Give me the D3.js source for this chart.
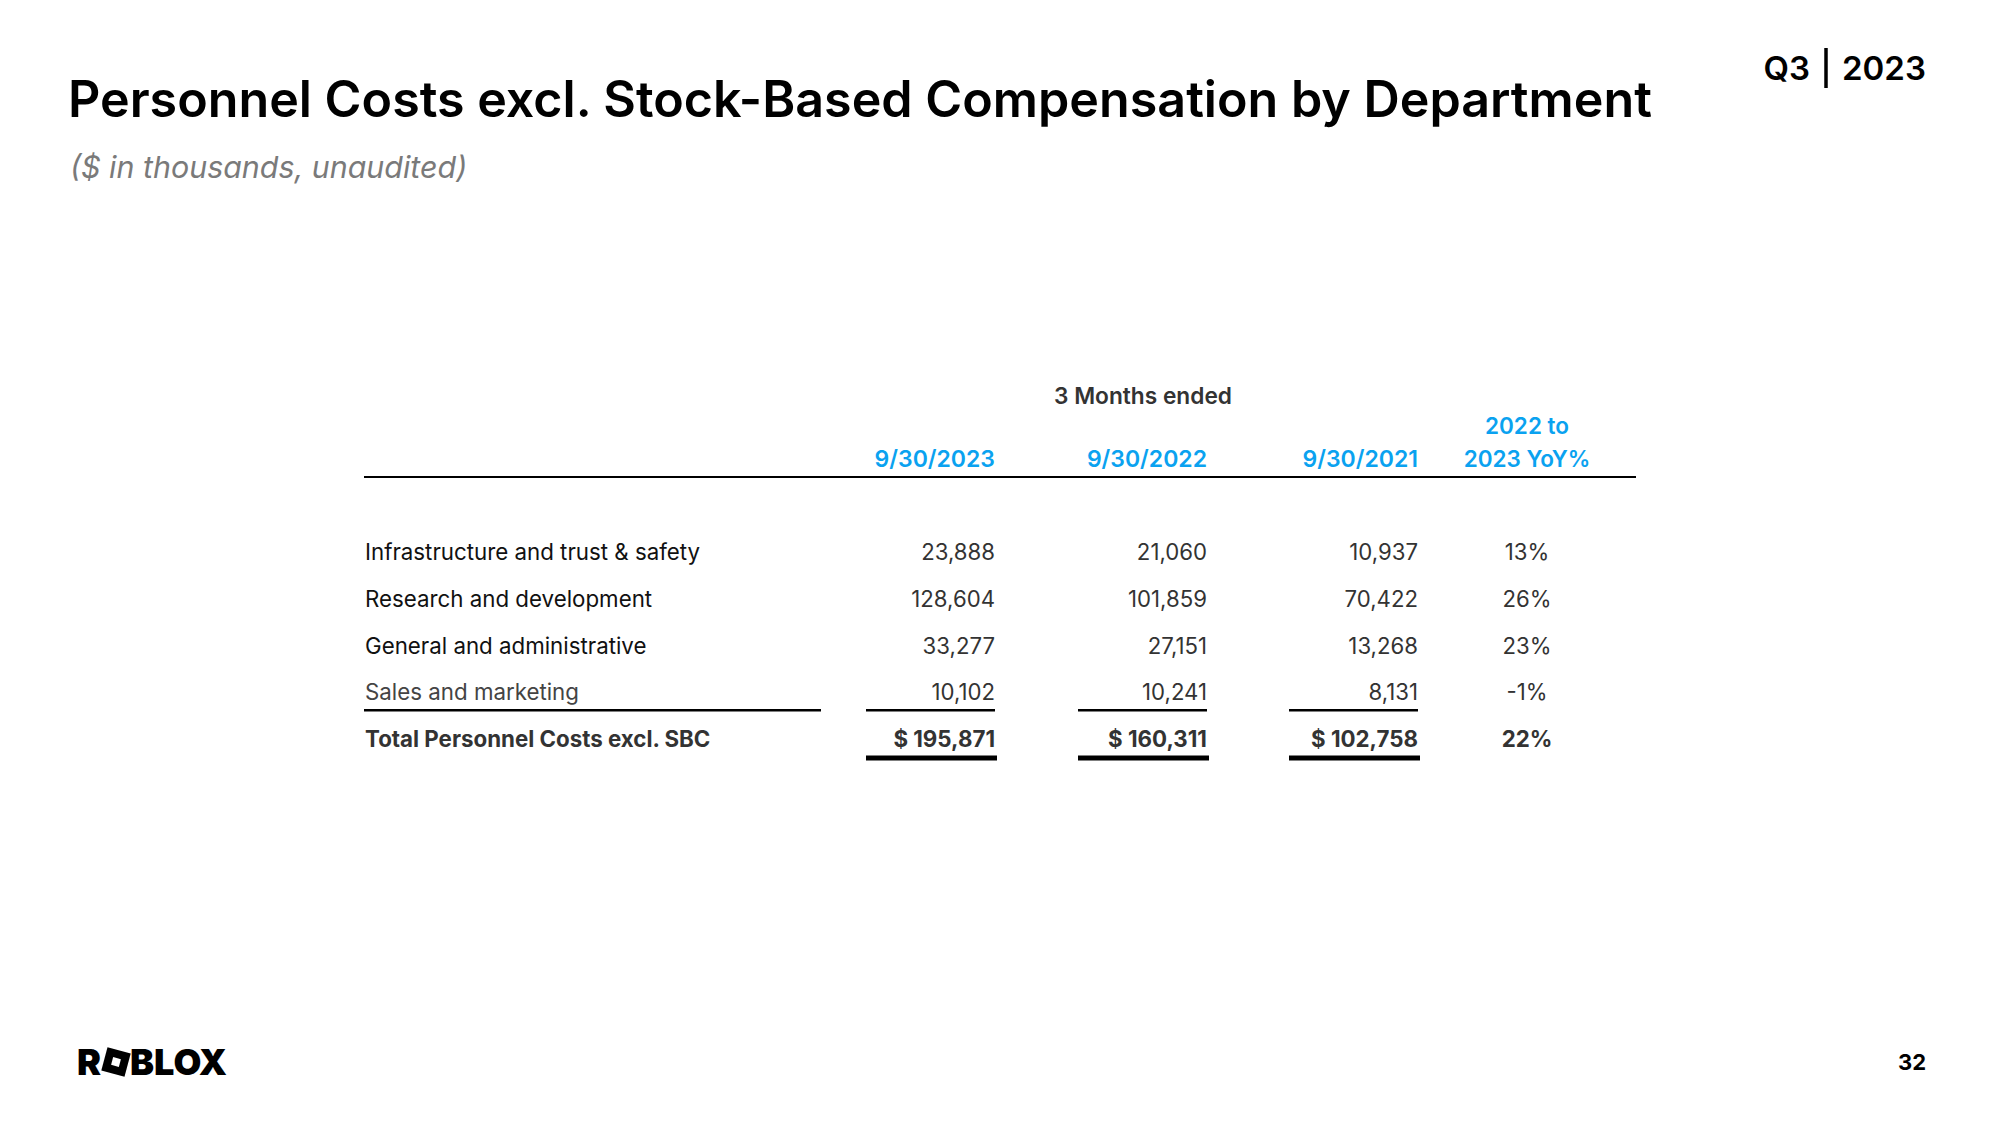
<!DOCTYPE html>
<html><head><meta charset="utf-8">
<script src="https://cdn.jsdelivr.net/npm/d3@7"></script>
<style>
html,body{margin:0;padding:0;background:#fff;}
svg{display:block;font-family:Inter,"Noto Sans",sans-serif;}
</style></head>
<body>
<svg id="c" width="2000" height="1125"></svg>
<script>
const title = "Personnel Costs excl. Stock-Based Compensation by Department";
const subtitle = "($ in thousands, unaudited)";
const quarterLabel = "Q3";
const yearLabel = "2023";
const pageNumber = "32";
const groupHeader = "3 Months ended";
const columnHeaders = ["9/30/2023", "9/30/2022", "9/30/2021"];
const yoyHeader = ["2022 to", "2023 YoY%"];
const categories = ["Infrastructure and trust & safety", "Research and development", "General and administrative", "Sales and marketing"];
const values2023 = [23888, 128604, 33277, 10102];
const values2022 = [21060, 101859, 27151, 10241];
const values2021 = [10937, 70422, 13268, 8131];
const yoyPct = [13, 26, 23, -1];
const totalLabel = "Total Personnel Costs excl. SBC";
const totals = [195871, 160311, 102758];
const totalYoy = 22;

const svg = d3.select("#c");
const blue = "#0aa2f0";
const fmt = d3.format(",");

// header texts
svg.append("text").attr("x", 68).attr("y", 117).attr("font-size", 50.2).attr("font-weight", 600)
  .attr("fill", "#000").text(title);
svg.append("text").attr("x", 70).attr("y", 178).attr("font-size", 30.4).attr("font-style", "italic")
  .attr("font-weight", 400).attr("fill", "#7a7a7a").text(subtitle);
svg.append("text").attr("x", 1810).attr("y", 80).attr("font-size", 33).attr("font-weight", 600)
  .attr("text-anchor", "end").attr("fill", "#000").text(quarterLabel);
svg.append("line").attr("x1", 1826).attr("x2", 1826).attr("y1", 48).attr("y2", 88)
  .attr("stroke", "#000").attr("stroke-width", 3.5);
svg.append("text").attr("x", 1842).attr("y", 80).attr("font-size", 33).attr("font-weight", 600)
  .attr("fill", "#000").text(yearLabel);

// scales
const colKeys = ["c2023", "c2022", "c2021"];
const xCol = d3.scaleOrdinal().domain(colKeys).range([995, 1207, 1418]);
const xPct = 1527;
const xLabel = 365;
const rowKeys = categories.concat([totalLabel]);
const y = d3.scalePoint().domain(rowKeys).range([560, 747]);

const g = svg.append("g");

// group header
g.append("text").attr("x", 1143).attr("y", 404).attr("font-size", 22.7).attr("font-weight", 600)
  .attr("text-anchor", "middle").attr("fill", "#333").text(groupHeader);
columnHeaders.forEach((h, i) => {
  g.append("text").attr("x", xCol(colKeys[i])).attr("y", 467).attr("font-size", 23).attr("font-weight", 600)
    .attr("text-anchor", "end").attr("fill", blue).text(h);
});
yoyHeader.forEach((h, i) => {
  g.append("text").attr("x", xPct).attr("y", 434 + i * 33).attr("font-size", 22.5).attr("font-weight", 600)
    .attr("text-anchor", "middle").attr("fill", blue).text(h);
});
g.append("line").attr("x1", 364).attr("x2", 1636).attr("y1", 477).attr("y2", 477)
  .attr("stroke", "#000").attr("stroke-width", 2);

// rows
const rows = categories.map((c, i) => ({label: c, v: [values2023[i], values2022[i], values2021[i]], pct: yoyPct[i]}));
rows.forEach((r, i) => {
  const last = i === rows.length - 1;
  g.append("text").attr("x", xLabel).attr("y", y(r.label)).attr("font-size", 22.3)
    .attr("fill", last ? "#444" : "#111").text(r.label);
  r.v.forEach((v, j) => {
    g.append("text").attr("x", xCol(colKeys[j])).attr("y", y(r.label)).attr("font-size", 22.2)
      .attr("text-anchor", "end").attr("fill", "#333").text(fmt(v));
  });
  g.append("text").attr("x", xPct).attr("y", y(r.label)).attr("font-size", 22.2)
    .attr("text-anchor", "middle").attr("fill", "#333").text(r.pct + "%");
});

// underline under last category row
const yUnder = y(categories[categories.length - 1]) + 10;
g.append("line").attr("x1", 364).attr("x2", 821).attr("y1", yUnder).attr("y2", yUnder)
  .attr("stroke", "#000").attr("stroke-width", 2.5);
colKeys.forEach(k => {
  g.append("line").attr("x1", xCol(k) - 129).attr("x2", xCol(k)).attr("y1", yUnder).attr("y2", yUnder)
    .attr("stroke", "#000").attr("stroke-width", 2.5);
});

// total row
const yt = y(totalLabel);
g.append("text").attr("x", xLabel).attr("y", yt).attr("font-size", 22.3).attr("font-weight", 700)
  .attr("fill", "#333").text(totalLabel);
totals.forEach((v, j) => {
  g.append("text").attr("x", xCol(colKeys[j])).attr("y", yt).attr("font-size", 22.3).attr("font-weight", 700)
    .attr("text-anchor", "end").attr("fill", "#333").text("$ " + fmt(v));
  g.append("line").attr("x1", xCol(colKeys[j]) - 129).attr("x2", xCol(colKeys[j]) + 2).attr("y1", yt + 11).attr("y2", yt + 11)
    .attr("stroke", "#000").attr("stroke-width", 5);
});
g.append("text").attr("x", xPct).attr("y", yt).attr("font-size", 22.3).attr("font-weight", 700)
  .attr("text-anchor", "middle").attr("fill", "#333").text(totalYoy + "%");

// footer logo
const logo = svg.append("g").attr("transform", "translate(77,1075)");
logo.append("text").attr("x", 0).attr("y", 0).attr("font-size", 36).attr("font-weight", 900)
  .attr("fill", "#000").text("R");
const sq = logo.append("g").attr("transform", "translate(39,-13) rotate(15)");
sq.append("rect").attr("x", -12).attr("y", -12).attr("width", 24).attr("height", 24).attr("fill", "#000");
sq.append("rect").attr("x", -4).attr("y", -4).attr("width", 8).attr("height", 8).attr("fill", "#fff");
logo.append("text").attr("x", 53).attr("y", 0).attr("font-size", 36).attr("font-weight", 900)
  .attr("fill", "#000").text("BLOX");

svg.append("text").attr("x", 1926).attr("y", 1070).attr("font-size", 22).attr("font-weight", 700)
  .attr("text-anchor", "end").attr("fill", "#000").text(pageNumber);
</script>
</body></html>
